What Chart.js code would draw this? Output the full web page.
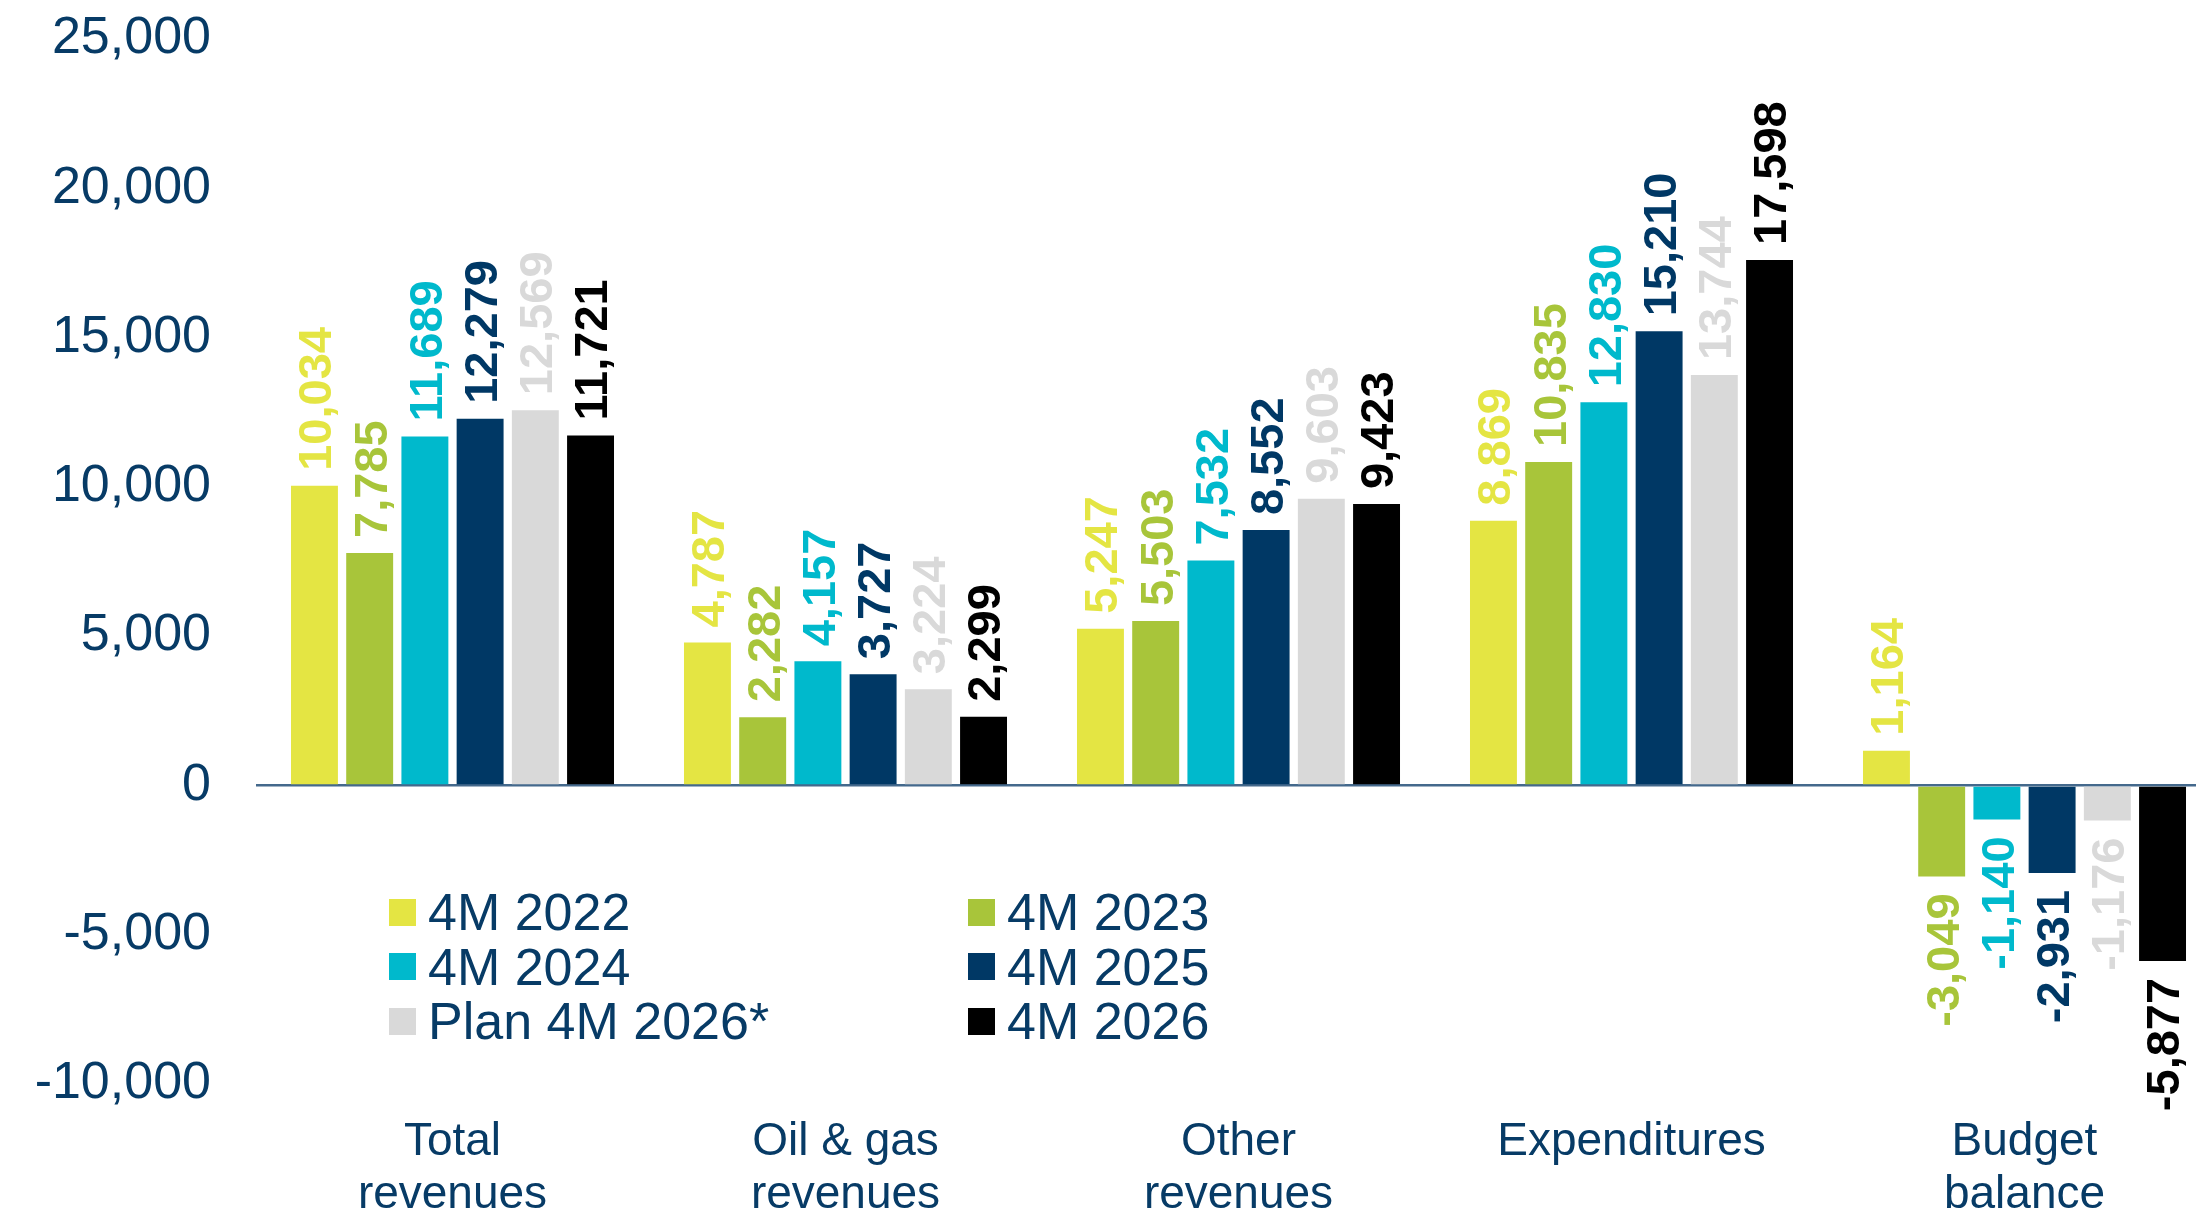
<!DOCTYPE html>
<html lang="en">
<head>
  <meta charset="UTF-8">
  <title>Budget 4M 2022-2026</title>
  <script src="https://cdn.jsdelivr.net/npm/chart.js"></script>
  <style>
    html, body { margin: 0; padding: 0; background: #fff; overflow: hidden; }
    #wrap { position: relative; width: 2196px; height: 1216px; overflow: hidden; }
    #chart { position: absolute; left: 0; top: 0; }
    #legend {
      position: absolute; left: 389px; top: 885px;
      display: grid; grid-template-columns: 579px auto;
      font-family: "Liberation Sans", Arial, sans-serif; font-size: 52px; color: #073b66;
    }
    .item { display: flex; align-items: center; height: 54.5px; line-height: 1; white-space: nowrap; }
    .box { width: 27px; height: 27px; margin-right: 12px; flex: none; }
  </style>
</head>
<body>
<div id="wrap">
  <canvas id="chart" width="2221" height="1216"></canvas>
  <div id="legend"></div>
</div>

<script>
const categories = [["Total", "revenues"], ["Oil & gas", "revenues"], ["Other", "revenues"], ["Expenditures"], ["Budget", "balance"]];
const seriesNames = ["4M 2022", "4M 2023", "4M 2024", "4M 2025", "Plan 4M 2026*", "4M 2026"];
const seriesColors = ["#e4e543", "#a8c53a", "#00b9cc", "#003865", "#d9d9d9", "#000000"];

const m2022 = [10034, 4787, 5247, 8869, 1164];
const m2023 = [7785, 2282, 5503, 10835, -3049];
const m2024 = [11689, 4157, 7532, 12830, -1140];
const m2025 = [12279, 3727, 8552, 15210, -2931];
const plan2026 = [12569, 3224, 9603, 13744, -1176];
const m2026 = [11721, 2299, 9423, 17598, -5877];

const yTicks = [25000, 20000, 15000, 10000, 5000, 0, -5000, -10000];

const seriesData = [m2022, m2023, m2024, m2025, plan2026, m2026];
const FONT = '"Liberation Sans", Arial, sans-serif';
const NAVY = "#073b66";

// value labels, rotated, above (or below) each bar
const barLabels = {
  id: "barLabels",
  afterDatasetsDraw(chart) {
    const ctx = chart.ctx;
    const size = 47;
    ctx.save();
    ctx.font = "bold " + size + "px " + FONT;
    ctx.textBaseline = "alphabetic";
    chart.data.datasets.forEach((ds, di) => {
      const meta = chart.getDatasetMeta(di);
      meta.data.forEach((bar, i) => {
        const v = ds.data[i];
        ctx.save();
        ctx.fillStyle = ds.backgroundColor;
        if (v >= 0) {
          ctx.translate(bar.x, bar.y - 15);
          ctx.rotate(-Math.PI / 2);
          ctx.textAlign = "left";
        } else {
          ctx.translate(bar.x, bar.y + 17);
          ctx.rotate(-Math.PI / 2);
          ctx.textAlign = "right";
        }
        ctx.fillText(v.toLocaleString("en-US"), 0, size * 0.358);
        ctx.restore();
      });
    });
    ctx.restore();
  }
};

const chart = new Chart(document.getElementById("chart"), {
  type: "bar",
  data: {
    labels: categories,
    datasets: seriesNames.map((name, i) => ({
      label: name,
      data: seriesData[i],
      backgroundColor: seriesColors[i],
      borderWidth: 0,
      barPercentage: 0.85,
      categoryPercentage: 0.843
    }))
  },
  options: {
    responsive: false,
    animation: false,
    layout: { padding: { top: 39, left: 0, right: 0, bottom: 0 } },
    plugins: {
      legend: { display: false },
      tooltip: { enabled: false }
    },
    scales: {
      x: {
        grid: { display: false, drawTicks: false },
        border: { display: false },
        ticks: {
          color: NAVY,
          padding: 32,
          maxRotation: 0,
          autoSkip: false,
          font: { family: FONT, size: 46, lineHeight: 1.15 }
        },
        afterFit(s) { s.height = 132; }
      },
      y: {
        min: -10000,
        max: 25000,
        afterBuildTicks(s) { s.ticks = yTicks.map(v => ({ value: v })); },
        grid: {
          drawTicks: false,
          color: c => (c.tick && c.tick.value === 0 ? "#44698c" : "rgba(0,0,0,0)"),
          lineWidth: c => (c.tick && c.tick.value === 0 ? 2.5 : 0)
        },
        border: { display: false },
        ticks: {
          color: NAVY,
          padding: 45,
          font: { family: FONT, size: 52 },
          callback: v => v.toLocaleString("en-US")
        },
        afterFit(s) {
          s.width = 256;
          s.paddingTop = 0;
          s.paddingBottom = 0;
        }
      }
    }
  },
  plugins: [barLabels]
});

// legend in two columns, inside the plot
const legend = document.getElementById("legend");
chart.data.datasets.forEach(ds => {
  const item = document.createElement("div");
  item.className = "item";
  const box = document.createElement("span");
  box.className = "box";
  box.style.background = ds.backgroundColor;
  const txt = document.createElement("span");
  txt.textContent = ds.label;
  item.appendChild(box);
  item.appendChild(txt);
  legend.appendChild(item);
});
</script>
</body>
</html>
